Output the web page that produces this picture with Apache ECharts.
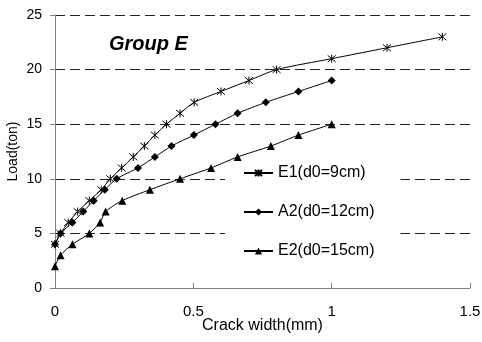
<!DOCTYPE html>
<html><head><meta charset="utf-8">
<script src="https://cdn.jsdelivr.net/npm/echarts@6/dist/echarts.min.js"></script>
<style>html,body{margin:0;padding:0;background:#fff}#c{width:482px;height:342px}</style>
</head><body><div id="c"></div>
<script>
const title = 'Group E';
const xName = 'Crack width(mm)';
const yName = 'Load(ton)';
const seriesNames = ['E1(d0=9cm)', 'A2(d0=12cm)', 'E2(d0=15cm)'];
const e1X = [0, 0.02, 0.048, 0.082, 0.124, 0.167, 0.2, 0.241, 0.283, 0.323, 0.361, 0.403, 0.452, 0.503, 0.6, 0.701, 0.801, 1.0, 1.2, 1.4];
const e1Y = [4, 5, 6, 7, 8, 9, 10, 11, 12, 13, 14, 15, 16, 17, 18, 19, 20, 21, 22, 23];
const a2X = [0, 0.02, 0.063, 0.102, 0.14, 0.18, 0.223, 0.3, 0.361, 0.421, 0.502, 0.58, 0.66, 0.762, 0.88, 1.0];
const a2Y = [4, 5, 6, 7, 8, 9, 10, 11, 12, 13, 14, 15, 16, 17, 18, 19];
const e2X = [0, 0.02, 0.063, 0.124, 0.163, 0.183, 0.243, 0.343, 0.452, 0.564, 0.66, 0.78, 0.88, 1.0];
const e2Y = [2, 3, 4, 5, 6, 7, 8, 9, 10, 11, 12, 13, 14, 15];

const zip = (xs, ys) => xs.map((x, i) => [x, ys[i]]);
const FONT = 'Liberation Sans, Arial, sans-serif';
const asterisk = 'path://M0,0L10,10M10,0L0,10M5,-1L5,11';

const chart = echarts.init(document.getElementById('c'), null, {renderer: 'canvas'});
chart.setOption({
  animation: false,
  backgroundColor: '#fff',
  textStyle: {fontFamily: FONT, color: '#000'},
  title: {
    text: title, left: 104, top: 29,
    textStyle: {fontFamily: FONT, fontSize: 20, fontWeight: 'bold', fontStyle: 'italic', color: '#000'}
  },
  grid: {left: 55, right: 12, top: 15, bottom: 54, containLabel: false, outerBoundsMode: 'none'},
  legend: {
    orient: 'vertical', left: 225, top: 157,
    z: 1,
    padding: [8, 26, 16, 18], itemGap: 23, itemWidth: 29, itemHeight: 9,
    backgroundColor: '#fff',
    textStyle: {fontFamily: FONT, fontSize: 16, color: '#000'},
    data: seriesNames
  },
  xAxis: {
    type: 'value', min: 0, max: 1.5, interval: 0.5,
    name: xName, nameLocation: 'middle', nameGap: 30, nameMoveOverlap: false,
    nameTextStyle: {fontFamily: FONT, fontSize: 16, color: '#000'},
    axisLine: {show: true, lineStyle: {color: '#808080', width: 1}},
    axisTick: {show: true, inside: true, length: 5, lineStyle: {color: '#808080'}},
    axisLabel: {fontFamily: FONT, fontSize: 15, color: '#000', margin: 16},
    splitLine: {show: false}
  },
  yAxis: {
    type: 'value', min: 0, max: 25, interval: 5,
    name: yName, nameLocation: 'middle', nameGap: 35, nameMoveOverlap: false,
    nameTextStyle: {fontFamily: FONT, fontSize: 14, color: '#000'},
    axisLine: {show: true, lineStyle: {color: '#808080', width: 1}},
    axisTick: {show: true, inside: false, length: 5, lineStyle: {color: '#808080'}},
    axisLabel: {fontFamily: FONT, fontSize: 14, color: '#000', margin: 13},
    splitLine: {show: true, lineStyle: {color: '#222', type: [10, 5], width: 1}}
  },
  series: [
    {
      name: seriesNames[0], type: 'line', data: zip(e1X, e1Y), smooth: 0.25,
      symbol: asterisk, symbolSize: 8,
      lineStyle: {color: '#000', width: 1},
      itemStyle: {color: 'rgba(0,0,0,0)', borderColor: '#000', borderWidth: 1}
    },
    {
      name: seriesNames[1], type: 'line', data: zip(a2X, a2Y), smooth: 0.25,
      symbol: 'diamond', symbolSize: 8,
      lineStyle: {color: '#000', width: 1},
      itemStyle: {color: '#000'}
    },
    {
      name: seriesNames[2], type: 'line', data: zip(e2X, e2Y), smooth: 0.25,
      symbol: 'triangle', symbolSize: 8,
      lineStyle: {color: '#000', width: 1},
      itemStyle: {color: '#000'}
    }
  ]
});
</script></body></html>
